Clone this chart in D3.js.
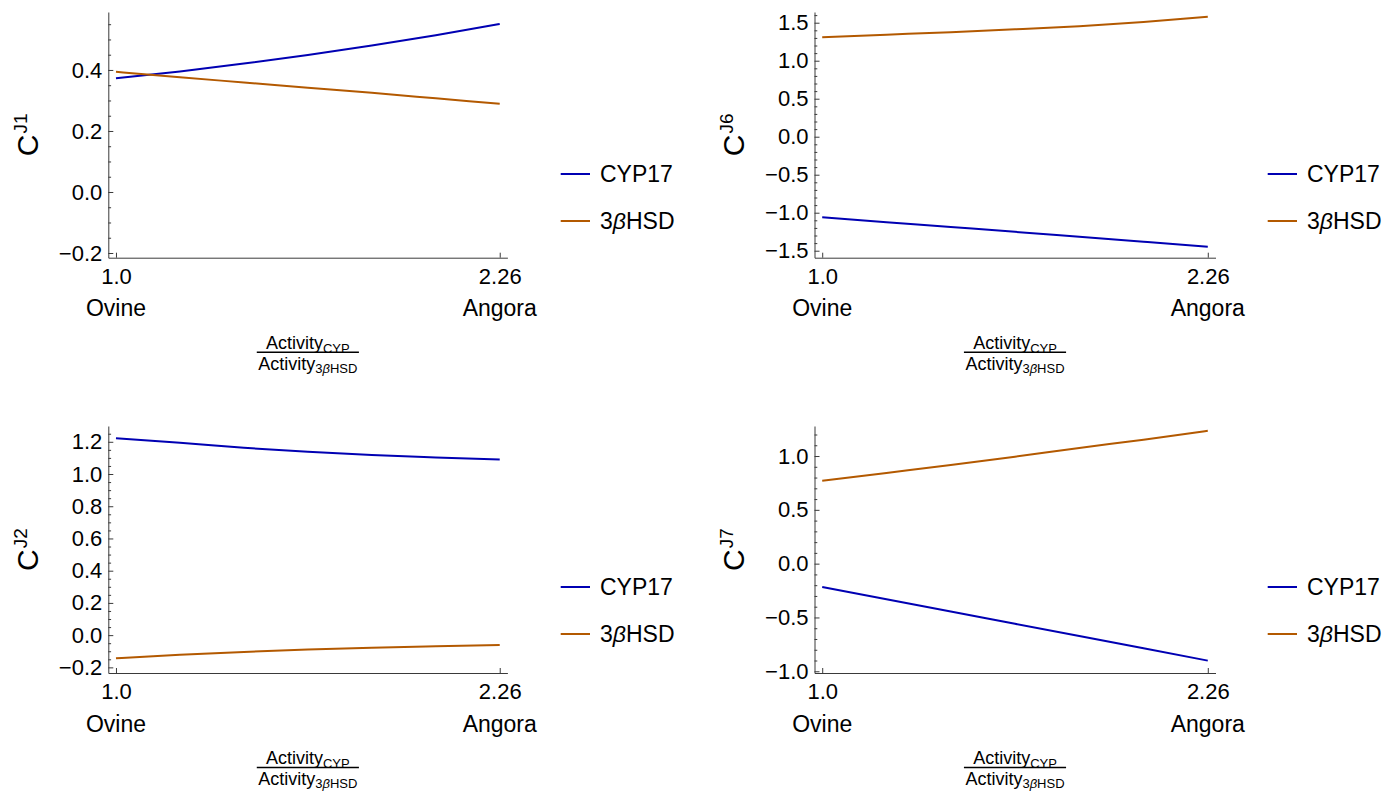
<!DOCTYPE html>
<html>
<head>
<meta charset="utf-8">
<script src="https://cdn.jsdelivr.net/npm/d3@7"></script>
<style>
  html, body { margin: 0; padding: 0; background: #fff; }
  svg { display: block; font-family: "Liberation Sans", Arial, sans-serif; }
</style>
</head>
<body>
<svg id="chart" width="1397" height="794"></svg>
<script>
// ---------------- data ----------------
const xRatio = [1.0, 1.21, 1.42, 1.63, 1.84, 2.05, 2.26];
const seriesNames = ["CYP17", "3βHSD"];
const xTickValues = [1.0, 2.26];
const xTickLabels = ["1.0", "2.26"];
const xCategoryLabels = ["Ovine", "Angora"];

const cyp17_J1 = [0.373, 0.395, 0.421, 0.449, 0.480, 0.514, 0.551];
const hsd_J1   = [0.394, 0.376, 0.359, 0.342, 0.325, 0.307, 0.289];
const cyp17_J6 = [-1.060, -1.124, -1.188, -1.252, -1.317, -1.382, -1.447];
const hsd_J6   = [1.308, 1.342, 1.376, 1.413, 1.455, 1.510, 1.579];
const cyp17_J2 = [1.222, 1.194, 1.163, 1.138, 1.118, 1.103, 1.090];
const hsd_J2   = [-0.144, -0.122, -0.104, -0.089, -0.078, -0.069, -0.0615];
const cyp17_J7 = [-0.217, -0.331, -0.445, -0.559, -0.673, -0.787, -0.901];
const hsd_J7   = [0.770, 0.843, 0.916, 0.994, 1.075, 1.152, 1.235];

const yTicksJ1 = [-0.2, 0.0, 0.2, 0.4];
const yTickLabelsJ1 = ["\u22120.2", "0.0", "0.2", "0.4"];
const yTicksJ6 = [-1.5, -1.0, -0.5, 0.0, 0.5, 1.0, 1.5];
const yTickLabelsJ6 = ["\u22121.5", "\u22121.0", "\u22120.5", "0.0", "0.5", "1.0", "1.5"];
const yTicksJ2 = [-0.2, 0.0, 0.2, 0.4, 0.6, 0.8, 1.0, 1.2];
const yTickLabelsJ2 = ["\u22120.2", "0.0", "0.2", "0.4", "0.6", "0.8", "1.0", "1.2"];
const yTicksJ7 = [-1.0, -0.5, 0.0, 0.5, 1.0];
const yTickLabelsJ7 = ["\u22121.0", "\u22120.5", "0.0", "0.5", "1.0"];

// ---------------- layout ----------------
const colors = ["#0000b3", "#b35900"];
const xDomain = [0.9748, 2.2852];
const panels = [
  { sup: "J1", series: [cyp17_J1, hsd_J1], yDomain: [-0.2154, 0.590], ticks: yTicksJ1, labels: yTickLabelsJ1, minorStep: 0.05,
    left: 108.3, right: 507.4, top: 12, bottom: 257.7, legendX: 560.7, legendY: [174, 221], labelX: 38 },
  { sup: "J6", series: [cyp17_J6, hsd_J6], yDomain: [-1.592, 1.641], ticks: yTicksJ6, labels: yTickLabelsJ6, minorStep: 0.1,
    left: 814.5, right: 1215.5, top: 12, bottom: 257.7, legendX: 1267.7, legendY: [174, 221], labelX: 743.5 },
  { sup: "J2", series: [cyp17_J2, hsd_J2], yDomain: [-0.235, 1.298], ticks: yTicksJ2, labels: yTickLabelsJ2, minorStep: 0.05,
    left: 108.3, right: 507.4, top: 426, bottom: 673, legendX: 560.7, legendY: [587, 634], labelX: 38 },
  { sup: "J7", series: [cyp17_J7, hsd_J7], yDomain: [-1.016, 1.279], ticks: yTicksJ7, labels: yTickLabelsJ7, minorStep: 0.1,
    left: 814.5, right: 1215.5, top: 426, bottom: 673, legendX: 1267.7, legendY: [587, 634], labelX: 743.5 }
];

const svg = d3.select("#chart");
const axisColor = "#3a3a3a";

panels.forEach(p => {
  const x = d3.scaleLinear().domain(xDomain).range([p.left, p.right]);
  const y = d3.scaleLinear().domain(p.yDomain).range([p.bottom, p.top]);
  const g = svg.append("g");

  // minor y ticks
  const minors = [];
  const k0 = Math.ceil(p.yDomain[0] / p.minorStep - 1e-9), k1 = Math.floor(p.yDomain[1] / p.minorStep + 1e-9);
  for (let k = k0; k <= k1; k++) {
    const v = +(k * p.minorStep).toFixed(4);
    if (!p.ticks.some(t => Math.abs(t - v) < 1e-6)) minors.push(v);
  }
  const gMinor = g.append("g").attr("transform", `translate(${p.left},0)`)
    .call(d3.axisLeft(y).tickValues(minors).tickSize(-2.8).tickSizeOuter(0).tickFormat(""));
  gMinor.select(".domain").remove();
  gMinor.selectAll("line").attr("stroke", axisColor);

  // major y axis
  const gy = g.append("g").attr("transform", `translate(${p.left},0)`)
    .call(d3.axisLeft(y).tickValues(p.ticks).tickSize(-5).tickSizeOuter(0).tickPadding(6)
      .tickFormat((d, i) => p.labels[i]));
  gy.select(".domain").attr("stroke", axisColor);
  gy.selectAll("line").attr("stroke", axisColor);
  gy.selectAll("text").attr("font-size", 22).attr("fill", "#000")
    .attr("font-family", "'Liberation Sans', Arial, sans-serif");

  // x axis
  const gx = g.append("g").attr("transform", `translate(0,${p.bottom})`)
    .call(d3.axisBottom(x).tickValues(xTickValues).tickSize(-5).tickSizeOuter(0).tickPadding(10.7)
      .tickFormat((d, i) => xTickLabels[i]));
  gx.select(".domain").attr("stroke", axisColor);
  gx.selectAll("line").attr("stroke", axisColor);
  gx.selectAll("text").attr("font-size", 22).attr("fill", "#000")
    .attr("font-family", "'Liberation Sans', Arial, sans-serif");

  // category labels
  g.selectAll(".cat").data(xTickValues).enter().append("text")
    .attr("x", d => x(d)).attr("y", p.bottom + 58.5)
    .attr("text-anchor", "middle").attr("font-size", 23).attr("fill", "#000")
    .text((d, i) => xCategoryLabels[i]);

  // lines
  const line = d3.line().x((d, i) => x(xRatio[i])).y(d => y(d)).curve(d3.curveMonotoneX);
  p.series.forEach((s, si) => {
    g.append("path").datum(s).attr("d", line)
      .attr("fill", "none").attr("stroke", colors[si]).attr("stroke-width", 2);
  });

  // y axis label C^J
  const cy = (p.top + p.bottom) / 2;
  const lab = g.append("text").attr("transform", `translate(${p.labelX},${cy}) rotate(-90)`)
    .attr("text-anchor", "middle").attr("fill", "#000");
  lab.append("tspan").attr("font-size", 30).text("C");
  lab.append("tspan").attr("font-size", 19).attr("dy", -11).attr("dx", 1).text(p.sup);

  // legend
  seriesNames.forEach((name, si) => {
    const ly = p.legendY[si];
    g.append("line").attr("x1", p.legendX).attr("x2", p.legendX + 29.3)
      .attr("y1", ly).attr("y2", ly).attr("stroke", colors[si]).attr("stroke-width", 2);
    const t = g.append("text").attr("x", p.legendX + 39.3).attr("y", ly).attr("dy", "0.36em")
      .attr("font-size", 23).attr("fill", "#000");
    if (name.indexOf("β") >= 0) {
      const parts = name.split("β");
      t.append("tspan").text(parts[0]);
      t.append("tspan").attr("font-style", "italic").text("β");
      t.append("tspan").text(parts[1]);
    } else {
      t.text(name);
    }
  });

  // fraction x label
  const cx = (x(xTickValues[0]) + x(xTickValues[1])) / 2;
  const num = g.append("text").attr("y", p.bottom + 91.3).attr("fill", "#000").attr("font-size", 18);
  num.append("tspan").text("Activity");
  num.append("tspan").attr("font-size", 13).attr("dy", 4).text("CYP");
  const den = g.append("text").attr("y", p.bottom + 112.3).attr("fill", "#000").attr("font-size", 18);
  den.append("tspan").text("Activity");
  den.append("tspan").attr("font-size", 13).attr("dy", 2.5).text("3");
  den.append("tspan").attr("font-size", 13).attr("font-style", "italic").text("β");
  den.append("tspan").attr("font-size", 13).text("HSD");
  const wn = num.node().getComputedTextLength();
  const wd = den.node().getComputedTextLength();
  num.attr("x", cx - wn / 2);
  den.attr("x", cx - wd / 2);
  const wb = Math.max(wn, wd) + 3;
  g.append("line").attr("x1", cx - wb / 2).attr("x2", cx + wb / 2)
    .attr("y1", p.bottom + 94.6).attr("y2", p.bottom + 94.6)
    .attr("stroke", "#000").attr("stroke-width", 1.5);
});
</script>
</body>
</html>
